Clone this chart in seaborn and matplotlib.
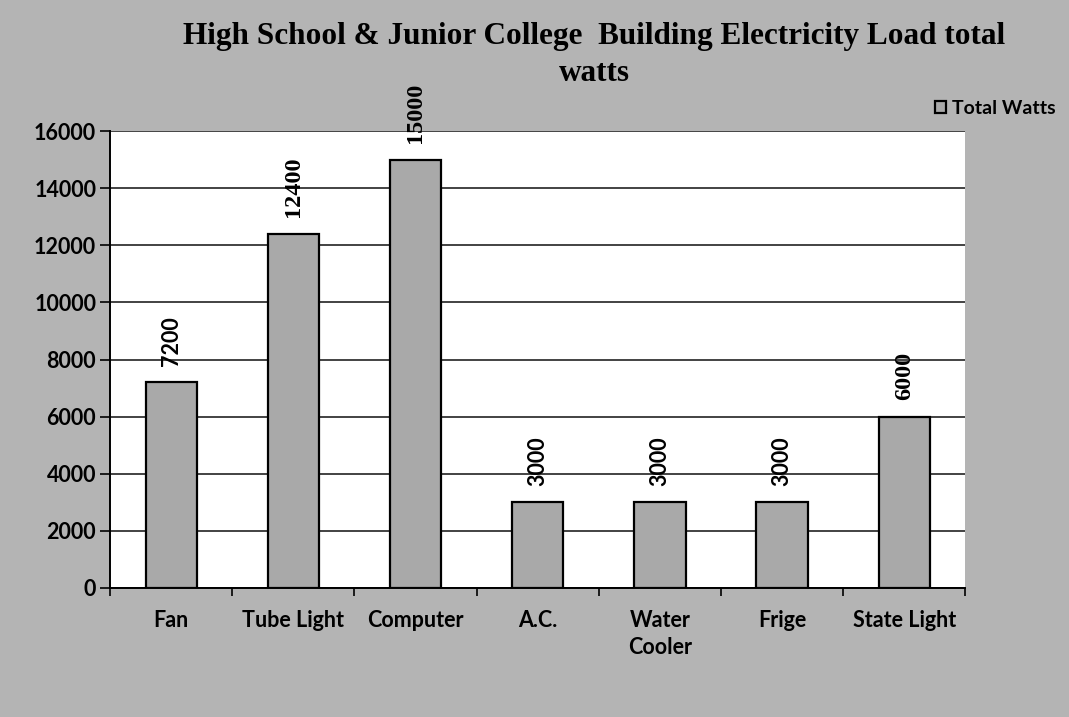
import matplotlib
matplotlib.use("Agg")
import matplotlib.pyplot as plt
import seaborn as sns
import pandas as pd
import numpy as np

categories = ["Fan", "Tube Light", "Computer", "A.C.", "Water\nCooler", "Frige", "State Light"]
total_watts = [7200, 12400, 15000, 3000, 3000, 3000, 6000]
y_ticks = [0, 2000, 4000, 6000, 8000, 10000, 12000, 14000, 16000]

df = pd.DataFrame({"Category": categories, "Total Watts": total_watts})

sns.set_theme(style="white")
plt.rcParams['font.family'] = ['Lato', 'DejaVu Sans']
plt.rcParams['text.color'] = 'black'
plt.rcParams['xtick.color'] = 'black'
plt.rcParams['ytick.color'] = 'black'
plt.rcParams['axes.labelcolor'] = 'black'

bg = "#b4b4b4"
fig = plt.figure(figsize=(10.69, 7.17), dpi=100, facecolor=bg)
ax = fig.add_axes([0.103, 0.18, 0.800, 0.637])
ax.set_facecolor("white")

sns.barplot(data=df, x="Category", y="Total Watts", color="#a9a9a9", width=0.42,
            edgecolor="black", linewidth=1.6, saturation=1, ax=ax, label="Total Watts", zorder=3)
if ax.get_legend() is not None:
    ax.get_legend().remove()

ax.set_ylim(0, 16000)
ax.set_yticks(y_ticks)
ax.set_yticklabels([str(v) for v in y_ticks], fontsize=15.5, fontweight="bold")
ax.set_xlim(-0.5, len(categories) - 0.5)
ax.set_xticks(range(len(categories)))
ax.set_xticklabels(categories, fontsize=15.5, fontweight="bold", linespacing=1.35)
ax.tick_params(axis="x", length=0, pad=16)
ax.tick_params(axis="y", length=7, width=1.2, color="black", direction="out", left=True, pad=3)
ax.set_xticks(np.arange(-0.5, len(categories), 1), minor=True)
ax.tick_params(axis="x", which="minor", length=6, width=1.2, color="black", direction="out", bottom=True)
ax.grid(axis="y", color="#222222", linewidth=1.2, zorder=0)
ax.set_axisbelow(True)
ax.set_xlabel("")
ax.set_ylabel("")
for s in ["top", "right"]:
    ax.spines[s].set_visible(False)
ax.spines["left"].set_color("black")
ax.spines["left"].set_linewidth(1.4)
ax.spines["bottom"].set_color("black")
ax.spines["bottom"].set_linewidth(1.4)

# value labels (the scanned reference mixes a serif face and a sans face)
serif_idx = {1, 2, 6}
for i, v in enumerate(total_watts):
    if i in serif_idx:
        fam, fs = "Liberation Serif", 17.5
    else:
        fam, fs = "Lato", 15.5
    ax.annotate(str(v), xy=(i, v), xytext=(0, 12), textcoords="offset points",
                rotation=90, ha="center", va="bottom", fontsize=fs, fontweight="bold",
                family=fam, annotation_clip=False)

fig.text(0.556, 0.97, "High School & Junior College  Building Electricity Load total\nwatts",
         ha="center", va="top", fontsize=22.5, fontweight="bold", family="Liberation Serif",
         linespacing=1.4)

handles, labels = ax.get_legend_handles_labels()
leg = fig.legend(handles[:1], labels[:1], loc="upper right", bbox_to_anchor=(1.004, 0.885),
                 frameon=False, handlelength=0.6, handleheight=0.6, handletextpad=0.3,
                 prop={"weight": "bold", "size": 14})

fig.savefig("out.png", dpi=100, facecolor=bg)
